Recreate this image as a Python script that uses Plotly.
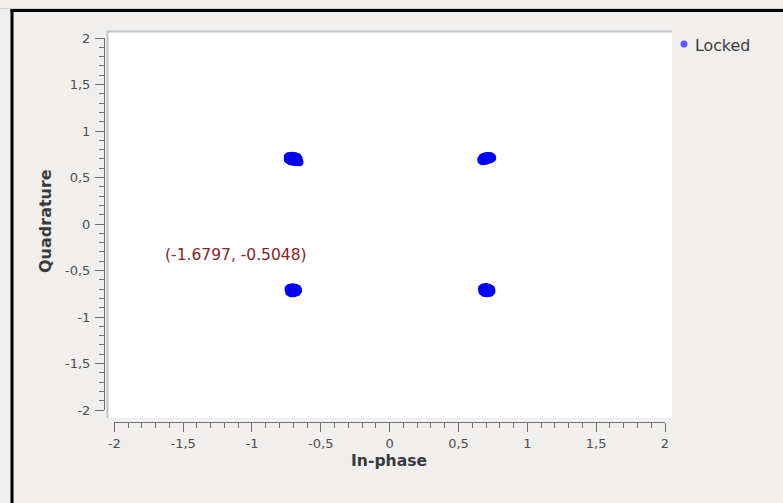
import plotly.graph_objects as go

W, H = 783, 503

# ---- data: QPSK constellation (In-phase, Quadrature) ----
ul_i = [-0.740, -0.730, -0.710, -0.690, -0.670, -0.660, -0.665, -0.680, -0.700, -0.720, -0.735, -0.740, -0.715, -0.685, -0.700, -0.655]
ul_q = [0.720, 0.730, 0.735, 0.730, 0.720, 0.700, 0.680, 0.665, 0.670, 0.675, 0.690, 0.700, 0.710, 0.700, 0.690, 0.665]
ur_i = [0.665, 0.675, 0.690, 0.710, 0.730, 0.740, 0.735, 0.720, 0.700, 0.680, 0.670, 0.700, 0.720, 0.690, 0.710, 0.745]
ur_q = [0.690, 0.715, 0.725, 0.730, 0.730, 0.720, 0.700, 0.690, 0.680, 0.675, 0.680, 0.705, 0.710, 0.700, 0.695, 0.710]
ll_i = [-0.735, -0.725, -0.705, -0.685, -0.670, -0.665, -0.675, -0.695, -0.715, -0.730, -0.710, -0.690, -0.700, -0.720, -0.680, -0.700]
ll_q = [-0.700, -0.685, -0.680, -0.685, -0.695, -0.715, -0.735, -0.745, -0.745, -0.730, -0.715, -0.710, -0.700, -0.725, -0.725, -0.740]
lr_i = [0.670, 0.680, 0.700, 0.720, 0.735, 0.740, 0.730, 0.710, 0.690, 0.675, 0.700, 0.715, 0.690, 0.725, 0.705, 0.685]
lr_q = [-0.695, -0.682, -0.678, -0.685, -0.700, -0.720, -0.738, -0.745, -0.742, -0.725, -0.710, -0.700, -0.720, -0.715, -0.730, -0.705]

in_phase = ul_i + ur_i + ll_i + lr_i
quadrature = ul_q + ur_q + ll_q + lr_q

tick_vals = [-2, -1.5, -1, -0.5, 0, 0.5, 1, 1.5, 2]
tick_text = ["-2", "-1,5", "-1", "-0,5", "0", "0,5", "1", "1,5", "2"]

series_name = "Locked"
x_title = "In-phase"
y_title = "Quadrature"
tracker_text = "(-1.6797, -0.5048)"

FONT = "DejaVu Sans"
BG = "#f0efee"
AXC = "#707070"


def px(x):
    return x / W


def py(y):
    return 1 - y / H


fig = go.Figure()
fig.add_trace(go.Scatter(
    x=in_phase, y=quadrature, mode="markers", name=series_name,
    marker=dict(color="#0000ff", size=8, line=dict(width=0)),
    showlegend=False, hoverinfo="x+y",
))

axis_common = dict(
    range=[-2, 2], showgrid=False, zeroline=False, showline=True,
    linecolor=AXC, linewidth=1, ticks="outside", ticklen=9, tickwidth=1,
    tickcolor=AXC, tickmode="array", tickvals=tick_vals, ticktext=tick_text,
    tickfont=dict(family=FONT, size=13, color="#4e4e4e"),
    minor=dict(ticks="outside", ticklen=5, tickwidth=1, tickcolor=AXC,
               tickmode="linear", tick0=0, dtick=0.1, showgrid=False),
    fixedrange=True, automargin=False,
)

fig.update_layout(
    width=W, height=H, autosize=False,
    margin=dict(l=0, r=0, t=0, b=0, pad=0),
    paper_bgcolor=BG, plot_bgcolor="white",
    showlegend=False,
    xaxis=dict(domain=[px(114.3), px(665)], anchor="free", position=py(422),
               **axis_common),
    yaxis=dict(domain=[py(410), py(38)], anchor="free", position=px(104),
               ticklabelstandoff=2, **axis_common),
    shapes=[
        # outer frame (window edge)
        dict(type="line", xref="paper", yref="paper", x0=0, x1=1,
             y0=py(8.5), y1=py(8.5), line=dict(color="#cfcfcf", width=1)),
        dict(type="line", xref="paper", yref="paper", x0=px(10.5), x1=1,
             y0=py(10.5), y1=py(10.5), line=dict(color="black", width=3)),
        dict(type="line", xref="paper", yref="paper", x0=px(12), x1=px(12),
             y0=0, y1=py(9), line=dict(color="black", width=3)),
        # white canvas
        dict(type="rect", xref="paper", yref="paper", x0=px(107), x1=px(672),
             y0=py(418), y1=py(31), fillcolor="white", line=dict(width=0),
             layer="below"),
        dict(type="line", xref="paper", yref="paper", x0=px(107), x1=px(672),
             y0=py(31.5), y1=py(31.5), line=dict(color="#c4c4c4", width=2)),
        dict(type="line", xref="paper", yref="paper", x0=px(107.5), x1=px(107.5),
             y0=py(418), y1=py(31), line=dict(color="#c4c4c4", width=2)),
        # legend marker
        dict(type="circle", xref="paper", yref="paper",
             x0=px(680.5), x1=px(687.5), y0=py(47.5), y1=py(40.5),
             fillcolor="#5858ff", line=dict(width=0)),
    ],
    annotations=[
        dict(text="<b>" + x_title + "</b>", xref="paper", yref="paper",
             x=px(389), y=py(461), xanchor="center", yanchor="middle",
             showarrow=False,
             font=dict(family=FONT, size=15.6, color="#3a3a3a")),
        dict(text="<b>" + y_title + "</b>", xref="paper", yref="paper",
             x=px(45.5), y=py(221.5), xanchor="center", yanchor="middle",
             showarrow=False, textangle=-90,
             font=dict(family=FONT, size=16, color="#3a3a3a")),
        dict(text=series_name, xref="paper", yref="paper",
             x=px(693), y=py(45), xanchor="left", yanchor="middle",
             showarrow=False,
             font=dict(family=FONT, size=15.8, color="#3a3a3a")),
        dict(text=tracker_text, xref="paper", yref="paper",
             x=px(236), y=py(255), xanchor="center", yanchor="middle",
             showarrow=False,
             font=dict(family=FONT, size=15.5, color="#8e2121")),
    ],
)

fig.write_html("out.html", config={"displayModeBar": False},
               post_script="document.body.style.margin='0';")
